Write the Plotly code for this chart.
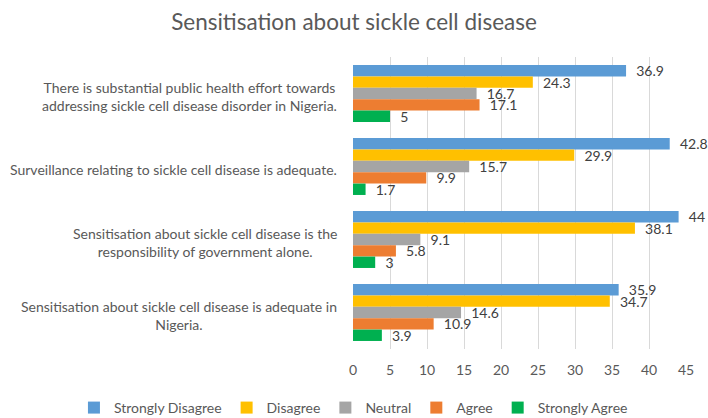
import plotly.graph_objects as go

categories = [
    "There is substantial public health effort towards<br>addressing sickle cell disease disorder in Nigeria.",
    "Surveillance relating to sickle cell disease is adequate.",
    "Sensitisation about sickle cell disease is the<br>responsibility of government alone.",
    "Sensitisation about sickle cell disease is adequate in<br>Nigeria.",
]
series_names = ["Strongly Disagree", "Disagree", "Neutral", "Agree", "Strongly Agree"]
strongly_disagree = [36.9, 42.8, 44, 35.9]
disagree = [24.3, 29.9, 38.1, 34.7]
neutral = [16.7, 15.7, 9.1, 14.6]
agree = [17.1, 9.9, 5.8, 10.9]
strongly_agree = [5, 1.7, 3, 3.9]
x_ticks = [0, 5, 10, 15, 20, 25, 30, 35, 40, 45]

colors = ["#5B9BD5", "#FFC000", "#A5A5A5", "#ED7D31", "#00B050"]
values = [strongly_disagree, disagree, neutral, agree, strongly_agree]

FONT = "Lato"
fig = go.Figure()
for name, vals, col in zip(series_names, values, colors):
    fig.add_trace(go.Bar(
        y=categories, x=vals, name=name, orientation="h",
        marker=dict(color=col, line=dict(width=0)),
        text=["\u00a0\u00a0" + f"{v:g}" for v in vals], textposition="outside",
        textfont=dict(family=FONT, size=14, color="#404040"),
        constraintext="none", cliponaxis=False,
    ))

for c in categories:
    fig.add_annotation(x=-0.042, xref="paper", y=c, yref="y", text=c, yshift=-3,
                       showarrow=False, xanchor="right", align="center",
                       font=dict(family=FONT, size=14, color="#595959"))

fig.update_layout(
    width=708, height=418,
    margin=dict(l=353, r=22, t=57, b=69, autoexpand=False),
    paper_bgcolor="white", plot_bgcolor="white",
    barmode="group", bargap=0.22, bargroupgap=0,
    title=dict(text="Sensitisation about sickle cell disease", x=0.5, xanchor="center",
               xref="container", yref="container",
               y=0.947, yanchor="middle",
               font=dict(family=FONT, size=22.5, color="#595959")),
    xaxis=dict(range=[0, 45], tickvals=x_ticks, showgrid=True, gridcolor="#D9D9D9",
               gridwidth=1, zeroline=False, showline=False,
               tickfont=dict(family=FONT, size=14, color="#595959"), ticklabelstandoff=11),
    yaxis=dict(autorange="reversed", showticklabels=False, showgrid=False, zeroline=False,
               showline=False),
    legend=dict(orientation="h", x=-0.838, xanchor="left", y=-0.202, yanchor="middle",
                itemwidth=30, tracegroupgap=0,
                font=dict(family=FONT, size=14, color="#595959"), traceorder="normal"),
    showlegend=True,
)

fig.write_html("out.html", config={"displayModeBar": False},
               post_script="document.body.style.margin='0';")
